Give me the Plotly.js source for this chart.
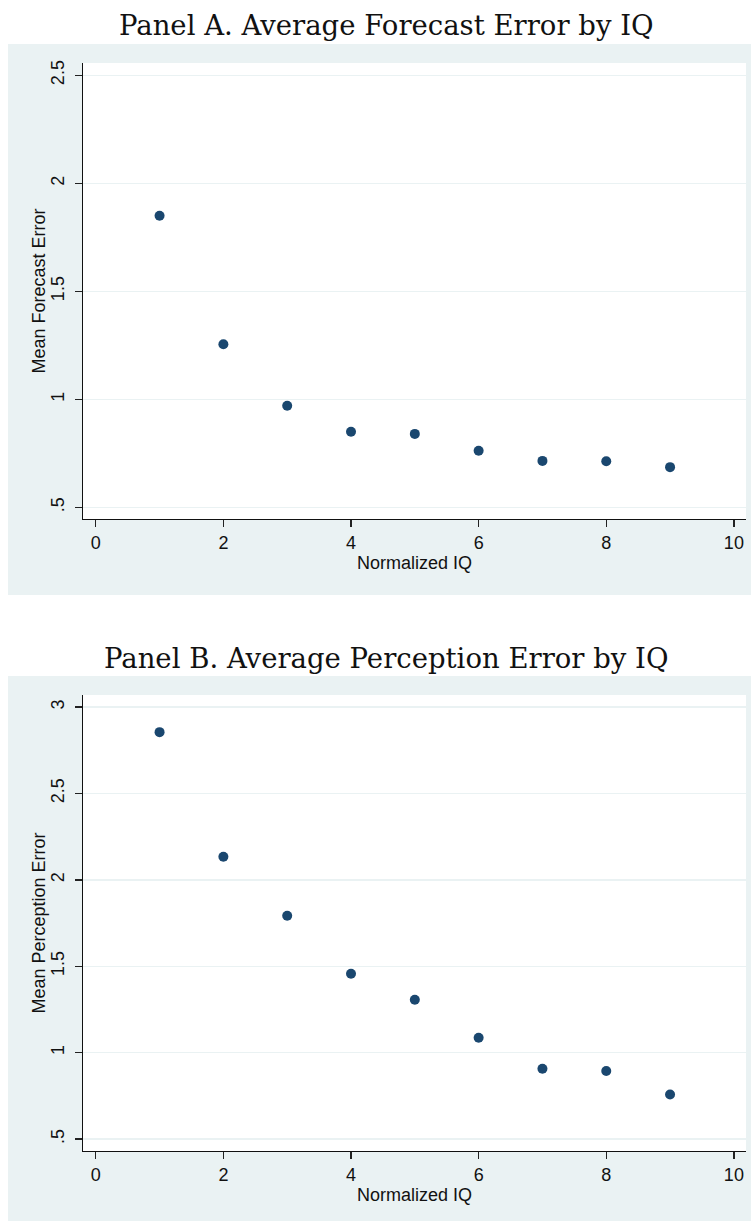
<!DOCTYPE html>
<html>
<head>
<meta charset="utf-8">
<script src="https://cdn.plot.ly/plotly-3.0.1.min.js"></script>
<style>html,body{margin:0;padding:0;background:#fff;}#chart{width:753px;height:1221px;}</style>
</head>
<body>
<div id="chart"></div>
<script>
// ---- Data ----
var iqDeciles = [1, 2, 3, 4, 5, 6, 7, 8, 9];
var meanForecastError = [1.85, 1.255, 0.97, 0.85, 0.84, 0.762, 0.715, 0.713, 0.686];
var meanPerceptionError = [2.855, 2.134, 1.792, 1.457, 1.306, 1.086, 0.907, 0.894, 0.758];
var xTickVals = [0, 2, 4, 6, 8, 10];
var xTickText = ['0', '2', '4', '6', '8', '10'];
var yTickValsA = [0.5, 1, 1.5, 2, 2.5];
var yTickTextA = ['.5', '1', '1.5', '2', '2.5'];
var yTickValsB = [0.5, 1, 1.5, 2, 2.5, 3];
var yTickTextB = ['.5', '1', '1.5', '2', '2.5', '3'];
var titleA = 'Panel A. Average Forecast Error by IQ';
var titleB = 'Panel B. Average Perception Error by IQ';
var xTitle = 'Normalized IQ';
var yTitleA = 'Mean Forecast Error';
var yTitleB = 'Mean Perception Error';

// ---- Layout helpers ----
var W = 753, H = 1221;
function px(x) { return x / W; }
function py(y) { return 1 - y / H; }

var navy = '#1a476f';
var bgBlue = '#eaf2f3';
var sans = 'Liberation Sans, Arial, sans-serif';
var serif = 'DejaVu Serif, serif';

function xAxis(anchor) {
  return {
    anchor: anchor,
    domain: [px(83), px(746)],
    range: [-0.2, 10.19],
    tickvals: xTickVals, ticktext: xTickText,
    showgrid: false, zeroline: false,
    showline: true, linecolor: '#111', linewidth: 1.3,
    ticks: 'outside', ticklen: 7, tickwidth: 1.3, tickcolor: '#222',
    tickfont: {family: sans, size: 18, color: '#111'},
    title: {text: xTitle, font: {family: sans, size: 18, color: '#111'}, standoff: 4},
    fixedrange: true
  };
}
function yAxis(top, bottom, range, tv, tt, anchor) {
  return {
    anchor: anchor,
    domain: [py(bottom), py(top)],
    range: range,
    tickvals: tv, ticktext: tt,
    tickangle: -90,
    showgrid: true, gridcolor: bgBlue, gridwidth: 1.5,
    zeroline: false,
    showline: true, linecolor: '#111', linewidth: 1.3,
    ticks: 'outside', ticklen: 7, tickwidth: 1.3, tickcolor: '#222',
    tickfont: {family: sans, size: 18, color: '#111'},
    ticklabelstandoff: 4,
    fixedrange: true
  };
}

var traces = [
  {x: iqDeciles, y: meanForecastError, xaxis: 'x', yaxis: 'y', type: 'scatter', mode: 'markers',
   marker: {color: navy, size: 10}, hoverinfo: 'x+y', showlegend: false},
  {x: iqDeciles, y: meanPerceptionError, xaxis: 'x2', yaxis: 'y2', type: 'scatter', mode: 'markers',
   marker: {color: navy, size: 10}, hoverinfo: 'x+y', showlegend: false}
];

var layout = {
  width: W, height: H,
  margin: {l: 0, r: 0, t: 0, b: 0},
  paper_bgcolor: '#ffffff',
  plot_bgcolor: 'rgba(0,0,0,0)',
  showlegend: false,
  xaxis: xAxis('y'),
  yaxis: yAxis(63, 519, [0.446, 2.557], yTickValsA, yTickTextA, 'x'),
  xaxis2: xAxis('y2'),
  yaxis2: yAxis(695, 1151, [0.431, 3.070], yTickValsB, yTickTextB, 'x2'),
  shapes: [
    {type: 'rect', xref: 'paper', yref: 'paper', layer: 'below', x0: px(8), x1: px(751), y0: py(595), y1: py(44),
     fillcolor: bgBlue, line: {width: 0}},
    {type: 'rect', xref: 'paper', yref: 'paper', layer: 'below', x0: px(83), x1: px(746), y0: py(519), y1: py(63),
     fillcolor: '#ffffff', line: {width: 0}},
    {type: 'rect', xref: 'paper', yref: 'paper', layer: 'below', x0: px(8), x1: px(751), y0: 0, y1: py(676),
     fillcolor: bgBlue, line: {width: 0}},
    {type: 'rect', xref: 'paper', yref: 'paper', layer: 'below', x0: px(83), x1: px(746), y0: py(1151), y1: py(695),
     fillcolor: '#ffffff', line: {width: 0}}
  ],
  annotations: [
    {text: titleA, xref: 'paper', yref: 'paper', x: px(386.5), y: py(25), xanchor: 'center', yanchor: 'middle',
     showarrow: false, font: {family: serif, size: 27.5, color: '#111'}},
    {text: titleB, xref: 'paper', yref: 'paper', x: px(386), y: py(658), xanchor: 'center', yanchor: 'middle',
     showarrow: false, font: {family: serif, size: 27.5, color: '#111'}},
    {text: yTitleA, xref: 'paper', yref: 'paper', x: px(38.5), y: py(291), xanchor: 'center', yanchor: 'middle',
     textangle: -90, showarrow: false, font: {family: sans, size: 18, color: '#111'}},
    {text: yTitleB, xref: 'paper', yref: 'paper', x: px(38.5), y: py(923), xanchor: 'center', yanchor: 'middle',
     textangle: -90, showarrow: false, font: {family: sans, size: 18, color: '#111'}}
  ]
};

Plotly.newPlot('chart', traces, layout, {displayModeBar: false, staticPlot: true});
</script>
</body>
</html>
